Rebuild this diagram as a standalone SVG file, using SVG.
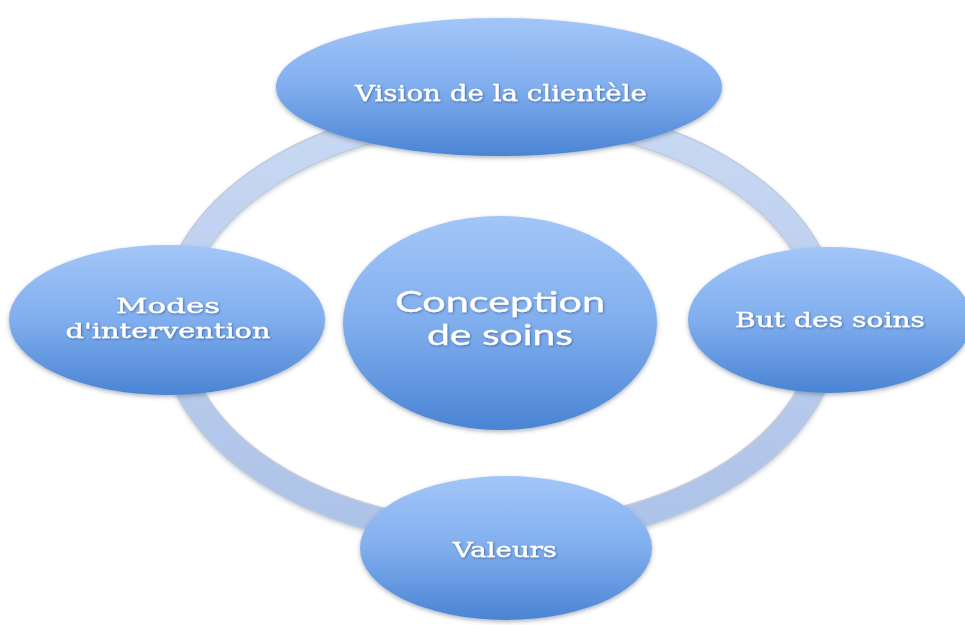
<svg xmlns="http://www.w3.org/2000/svg" width="965" height="625" viewBox="0 0 965 625">
<defs>
<linearGradient id="blue" x1="0" y1="0" x2="0" y2="1">
<stop offset="0" stop-color="#a3c6f8"/>
<stop offset="0.5" stop-color="#80aeee"/>
<stop offset="1" stop-color="#4a84d4"/>
</linearGradient>
<linearGradient id="ringg" x1="0" y1="0" x2="0" y2="1">
<stop offset="0" stop-color="#c8d9f3"/>
<stop offset="1" stop-color="#acc2e7"/>
</linearGradient>
<filter id="sh" x="-10%" y="-10%" width="120%" height="125%">
<feDropShadow dx="0" dy="2" stdDeviation="2" flood-color="#4a5a70" flood-opacity="0.45"/>
</filter>
<filter id="tsh" x="-5%" y="-20%" width="110%" height="140%">
<feDropShadow dx="1" dy="1" stdDeviation="0.8" flood-color="#1e3c6e" flood-opacity="0.55"/>
</filter>
</defs>
<style>
.node{fill:url(#blue);filter:url(#sh)}
.lbl{fill:#ffffff;stroke:#ffffff;stroke-width:0.4;font-family:"DejaVu Serif","Liberation Serif",serif;text-anchor:middle;filter:url(#tsh)}
.big{fill:#ffffff;stroke:#ffffff;stroke-width:0.3;font-family:Lato,"Open Sans",sans-serif;text-anchor:middle;filter:url(#tsh)}
</style>
<rect width="965" height="625" fill="#ffffff"/>
<g id="connectors">
<ellipse cx="500" cy="324" rx="328" ry="211" fill="none" stroke="#9aa9c2" stroke-width="27" opacity="0.6" filter="url(#sh)"/>
<ellipse cx="500" cy="324" rx="328" ry="211" fill="none" stroke="url(#ringg)" stroke-width="24"/>
</g>
<g id="center">
<ellipse class="node" cx="500" cy="323" rx="157" ry="107"/>
<text class="big" x="500" y="312" font-size="29" textLength="210" lengthAdjust="spacingAndGlyphs">Conception</text>
<text class="big" x="500" y="345" font-size="29" textLength="146" lengthAdjust="spacingAndGlyphs">de soins</text>
</g>
<g id="vision">
<ellipse class="node" cx="499" cy="87" rx="223" ry="69"/>
<text class="lbl" x="501" y="101" font-size="23" textLength="292" lengthAdjust="spacingAndGlyphs">Vision de la clientèle</text>
</g>
<g id="modes">
<ellipse class="node" cx="167" cy="320" rx="158" ry="75"/>
<text class="lbl" x="168" y="313" font-size="21" textLength="104" lengthAdjust="spacingAndGlyphs">Modes</text>
<text class="lbl" x="168" y="338" font-size="21" textLength="205" lengthAdjust="spacingAndGlyphs">d'intervention</text>
</g>
<g id="but">
<ellipse class="node" cx="830" cy="320" rx="142" ry="73"/>
<text class="lbl" x="830" y="327" font-size="21" textLength="190" lengthAdjust="spacingAndGlyphs">But des soins</text>
</g>
<g id="valeurs">
<ellipse class="node" cx="506" cy="548" rx="146" ry="72"/>
<text class="lbl" x="505" y="557" font-size="21" textLength="104" lengthAdjust="spacingAndGlyphs">Valeurs</text>
</g>
</svg>
